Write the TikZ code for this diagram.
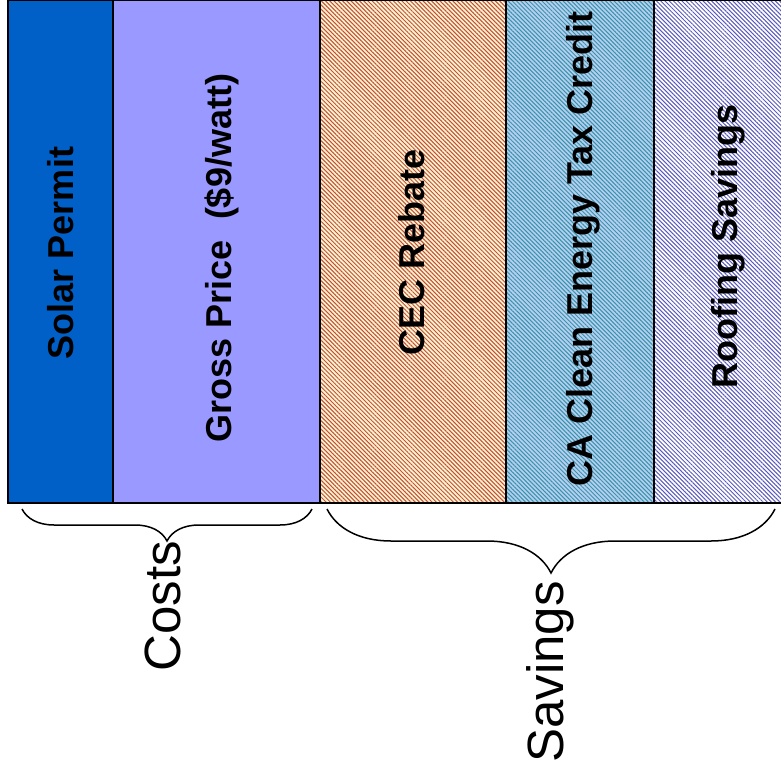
\documentclass[tikz,border=0pt]{standalone}
\usepackage{fontspec}
\setmainfont{Liberation Sans}
\usetikzlibrary{patterns.meta,decorations.pathreplacing}

\definecolor{permit}{RGB}{0,96,200}
\definecolor{gross}{RGB}{153,153,255}
\definecolor{cecbg}{RGB}{255,242,205}
\definecolor{cecline}{RGB}{190,80,60}
\definecolor{cabg}{RGB}{185,205,240}
\definecolor{caline}{RGB}{50,150,170}
\definecolor{roofline}{RGB}{90,90,190}

\begin{document}
\begin{tikzpicture}[x=1pt,y=-1pt,
  bar/.style={draw=black,line width=2pt},
  hatch/.style={pattern={Lines[angle=-45,distance=3pt,line width=1pt]},pattern color=#1},
  barlabel/.style={rotate=90,anchor=base,inner sep=0pt,font=\fontsize{36}{36}\selectfont\bfseries},
  sumlabel/.style={rotate=90,anchor=base,inner sep=0pt,font=\fontsize{51}{51}\selectfont},
  curly/.style={decorate,decoration={brace,mirror,amplitude=#1},line width=1.5pt}]
\useasboundingbox (0,0) rectangle (781,770);

% bars
\draw[bar,fill=permit] (8,0) rectangle (113,503);
\draw[bar,fill=gross] (113,0) rectangle (320,503);
\draw[bar,preaction={fill=cecbg},hatch=cecline] (320,0) rectangle (506,503);
\draw[bar,preaction={fill=cabg},hatch=caline] (506,0) rectangle (654,503);
\draw[bar,preaction={fill=white},hatch=roofline] (654,0) rectangle (792,503);

% bar labels
\node[barlabel] (permit) at (73,253) {Solar Permit};
\node[barlabel] (gross) at (231,258) {Gross Price\ \ (\$9/watt)};
\node[barlabel] (cec) at (424,252) {CEC Rebate};
\node[barlabel] (tax) at (592,249) {CA Clean Energy Tax Credit};
\node[barlabel] (roof) at (737,246) {Roofing Savings};

% braces
\coordinate (c1) at (22,509);
\coordinate (c2) at (312,509);
\coordinate (s1) at (327,509);
\coordinate (s2) at (775,509);
\draw[curly=32] (c1) -- (c2);
\draw[curly=64] (s1) -- (s2);

% labels
\node[sumlabel] (costs) at (180,606) {Costs};
\node[sumlabel] (savings) at (563,672) {Savings};
\end{tikzpicture}
\end{document}
